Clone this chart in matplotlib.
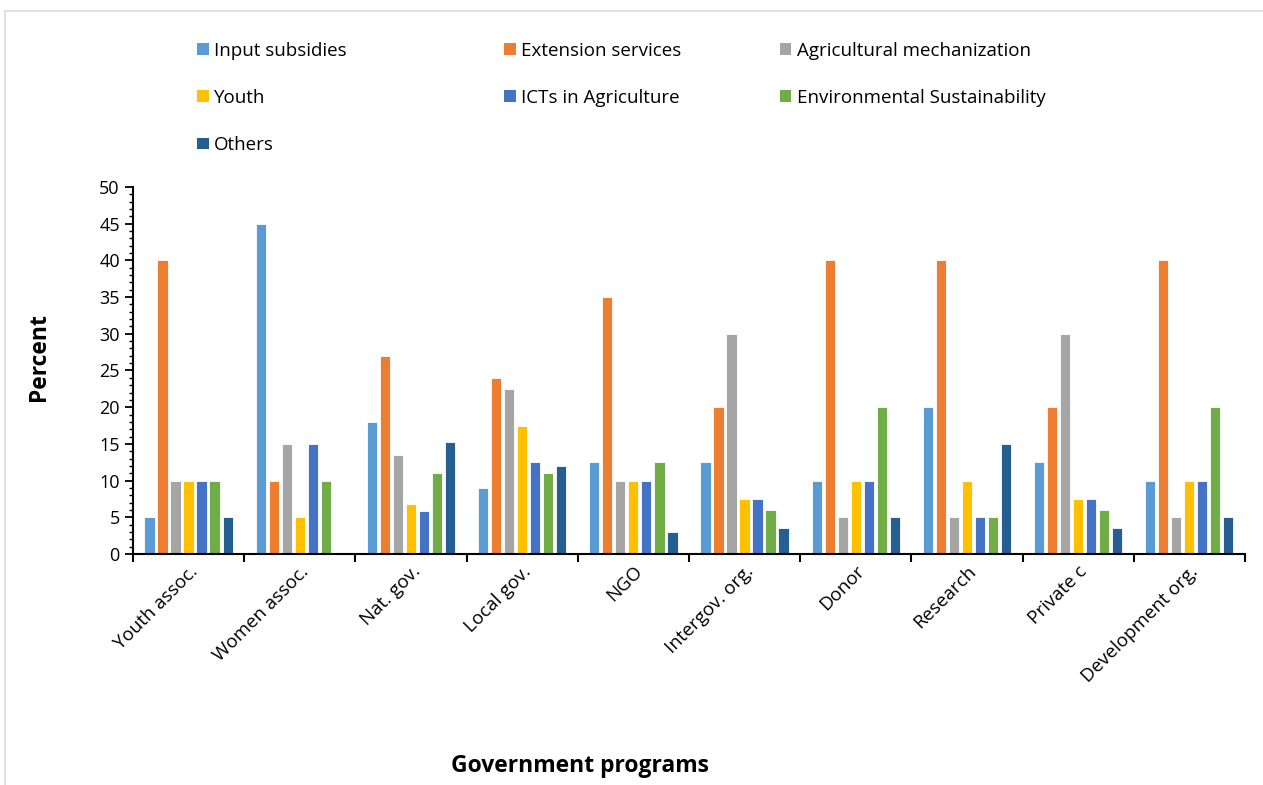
import matplotlib.pyplot as plt
import numpy as np
from matplotlib.patches import Patch, Rectangle
from matplotlib.ticker import MultipleLocator

plt.rcParams['font.family'] = ['Open Sans', 'DejaVu Sans']

programs = ['Youth assoc.', 'Women assoc.', 'Nat. gov.', 'Local gov.', 'NGO',
            'Intergov. org.', 'Donor', 'Research', 'Private c', 'Development org.']

series = ['Input subsidies', 'Extension services', 'Agricultural mechanization',
          'Youth', 'ICTs in Agriculture', 'Environmental Sustainability', 'Others']

input_subsidies = [5, 45, 18, 9, 12.5, 12.5, 10, 20, 12.5, 10]
extension = [40, 10, 27, 24, 35, 20, 40, 40, 20, 40]
mechanization = [10, 15, 13.5, 22.5, 10, 30, 5, 5, 30, 5]
youth = [10, 5, 6.8, 17.5, 10, 7.5, 10, 10, 7.5, 10]
icts = [10, 15, 5.8, 12.5, 10, 7.5, 10, 5, 7.5, 10]
environment = [10, 10, 11, 11, 12.5, 6, 20, 5, 6, 20]
others = [5, 0, 15.2, 12, 3, 3.5, 5, 15, 3.5, 5]

values = [input_subsidies, extension, mechanization, youth, icts, environment, others]
colors = ['#5B9BD5', '#ED7D31', '#A5A5A5', '#FFC000', '#4472C4', '#70AD47', '#255E91']

fig = plt.figure(figsize=(12.63, 7.85), dpi=100)
ax = fig.add_axes([0.1053, 0.2943, 0.8804, 0.4675])

x = np.arange(len(programs))
pitch = 0.117
width = 0.092
for i, (vals, c) in enumerate(zip(values, colors)):
    ax.bar(x + (i - 3) * pitch, vals, width, color=c, edgecolor='white',
           linewidth=0.6, label=series[i])

ax.set_xlim(-0.5, len(programs) - 0.5)
ax.set_ylim(0, 50)
ax.yaxis.set_major_locator(MultipleLocator(5))
ax.yaxis.set_minor_locator(MultipleLocator(1))
ax.set_xticks(np.arange(len(programs) + 1) - 0.5)
ax.set_xticklabels([])
ax.set_xticks(x, minor=True)
ax.set_xticklabels(programs, minor=True, rotation=45, ha='right',
                   rotation_mode='anchor', fontsize=13.5)
ax.tick_params(axis='x', which='minor', length=0, pad=6)
ax.tick_params(axis='x', which='major', length=6, width=1.5, direction='out')
ax.tick_params(axis='y', which='major', length=6, width=1.3, labelsize=13)
ax.tick_params(axis='y', which='minor', length=3, width=1.0)
for s in ['top', 'right']:
    ax.spines[s].set_visible(False)
for s in ['left', 'bottom']:
    ax.spines[s].set_linewidth(1.5)

fig.text(0.031, 0.545, 'Percent', rotation=90, ha='center', va='center',
         fontsize=16.5, fontweight='bold')
fig.text(0.459, 0.024, 'Government programs', ha='center', va='center',
         fontsize=16.5, fontweight='bold')

# legend, three columns laid out like the Excel original
handles = [Patch(facecolor=c) for c in colors]
cols = [([0, 3, 6], 0.143), ([1, 4], 0.386), ([2, 5], 0.604)]
for idx, xpos in cols:
    leg = fig.legend([handles[k] for k in idx], [series[k] for k in idx],
                     loc='upper left', bbox_to_anchor=(xpos, 0.968),
                     frameon=False, fontsize=13.5, handlelength=0.6,
                     handleheight=0.6, handletextpad=0.3, labelspacing=1.55)

fig.patches.append(Rectangle((0.004, -0.02), 1.1, 1.006, transform=fig.transFigure,
                             fill=False, edgecolor='#D9D9D9', linewidth=1.2))

fig.savefig('out.png', dpi=100)
